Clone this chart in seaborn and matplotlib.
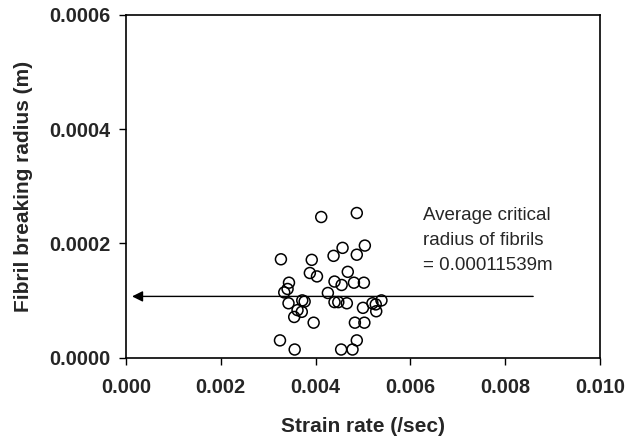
import numpy as np
import pandas as pd
import matplotlib
matplotlib.use("Agg")
import matplotlib.pyplot as plt
import seaborn as sns

# strain rate (/sec) and fibril breaking radius (m)
strain_rate = [0.00327, 0.00412, 0.00487, 0.00504, 0.00457, 0.00487, 0.00438,
               0.00392, 0.00388, 0.00403, 0.00468, 0.00344, 0.00440, 0.00455,
               0.00481, 0.00502, 0.00334, 0.00341, 0.00426, 0.00343, 0.00372,
               0.00377, 0.00440, 0.00448, 0.00466, 0.00362, 0.00371, 0.00355,
               0.00500, 0.00520, 0.00527, 0.00539, 0.00528, 0.00396, 0.00483,
               0.00503, 0.00325, 0.00356, 0.00454, 0.00478, 0.00487]
radius = [0.000172, 0.000246, 0.000253, 0.000196, 0.000192, 0.000180, 0.000178,
          0.000171, 0.000148, 0.000142, 0.000150, 0.000131, 0.000133, 0.000127,
          0.000131, 0.000131, 0.000114, 0.000120, 0.000113, 0.000095, 0.000100,
          0.000098, 0.000097, 0.000097, 0.000095, 0.000083, 0.000080, 0.000071,
          0.000087, 0.000095, 0.000093, 0.000100, 0.000081, 0.000061, 0.000061,
          0.000061, 0.000030, 0.000014, 0.000014, 0.000014, 0.000030]

# average line (as drawn) and its extent
avg_line_y = 0.000107
avg_line_x = [0.00013, 0.00859]
avg_text = "Average critical\nradius of fibrils\n= 0.00011539m"

x_ticks = [0.000, 0.002, 0.004, 0.006, 0.008, 0.010]
y_ticks = [0.0000, 0.0002, 0.0004, 0.0006]

df = pd.DataFrame({"Strain rate": strain_rate, "Radius": radius})

sns.set_style("ticks")
plt.rcParams["font.family"] = ["Liberation Sans", "DejaVu Sans"]

fig = plt.figure(figsize=(6.39, 4.36), dpi=100)
ax = fig.add_axes([0.197, 0.180, 0.742, 0.786])

sns.scatterplot(data=df, x="Strain rate", y="Radius", ax=ax, marker="o",
                s=62, facecolor="none", edgecolor="black", linewidth=1.1)

# arrow pointing back to the y axis
ax.annotate("", xy=(avg_line_x[0], avg_line_y), xytext=(avg_line_x[1], avg_line_y),
            arrowprops=dict(arrowstyle="-|>", color="black", lw=1.0,
                            mutation_scale=16, shrinkA=0, shrinkB=0))
ax.text(0.00627, 0.000263, avg_text, fontsize=13.5, va="top", ha="left",
        linespacing=1.6)

ax.set_xlim(0, 0.010)
ax.set_ylim(0, 0.0006)
ax.set_xticks(x_ticks)
ax.set_xticklabels([f"{v:.3f}" for v in x_ticks], fontsize=14.3, fontweight="bold")
ax.set_yticks(y_ticks)
ax.set_yticklabels([f"{v:.4f}" for v in y_ticks], fontsize=14.3, fontweight="bold")
ax.tick_params(axis="y", length=5, width=1, pad=6, color="black")
ax.tick_params(axis="x", length=5, width=1, pad=10, color="black")

ax.set_xlabel("Strain rate (/sec)", fontsize=15, fontweight="bold", labelpad=14)
ax.set_ylabel("Fibril breaking radius (m)", fontsize=15, fontweight="bold", labelpad=12)

for s in ax.spines.values():
    s.set_visible(True)
    s.set_linewidth(1.2)
    s.set_color("black")

plt.savefig("out.png", dpi=100)
